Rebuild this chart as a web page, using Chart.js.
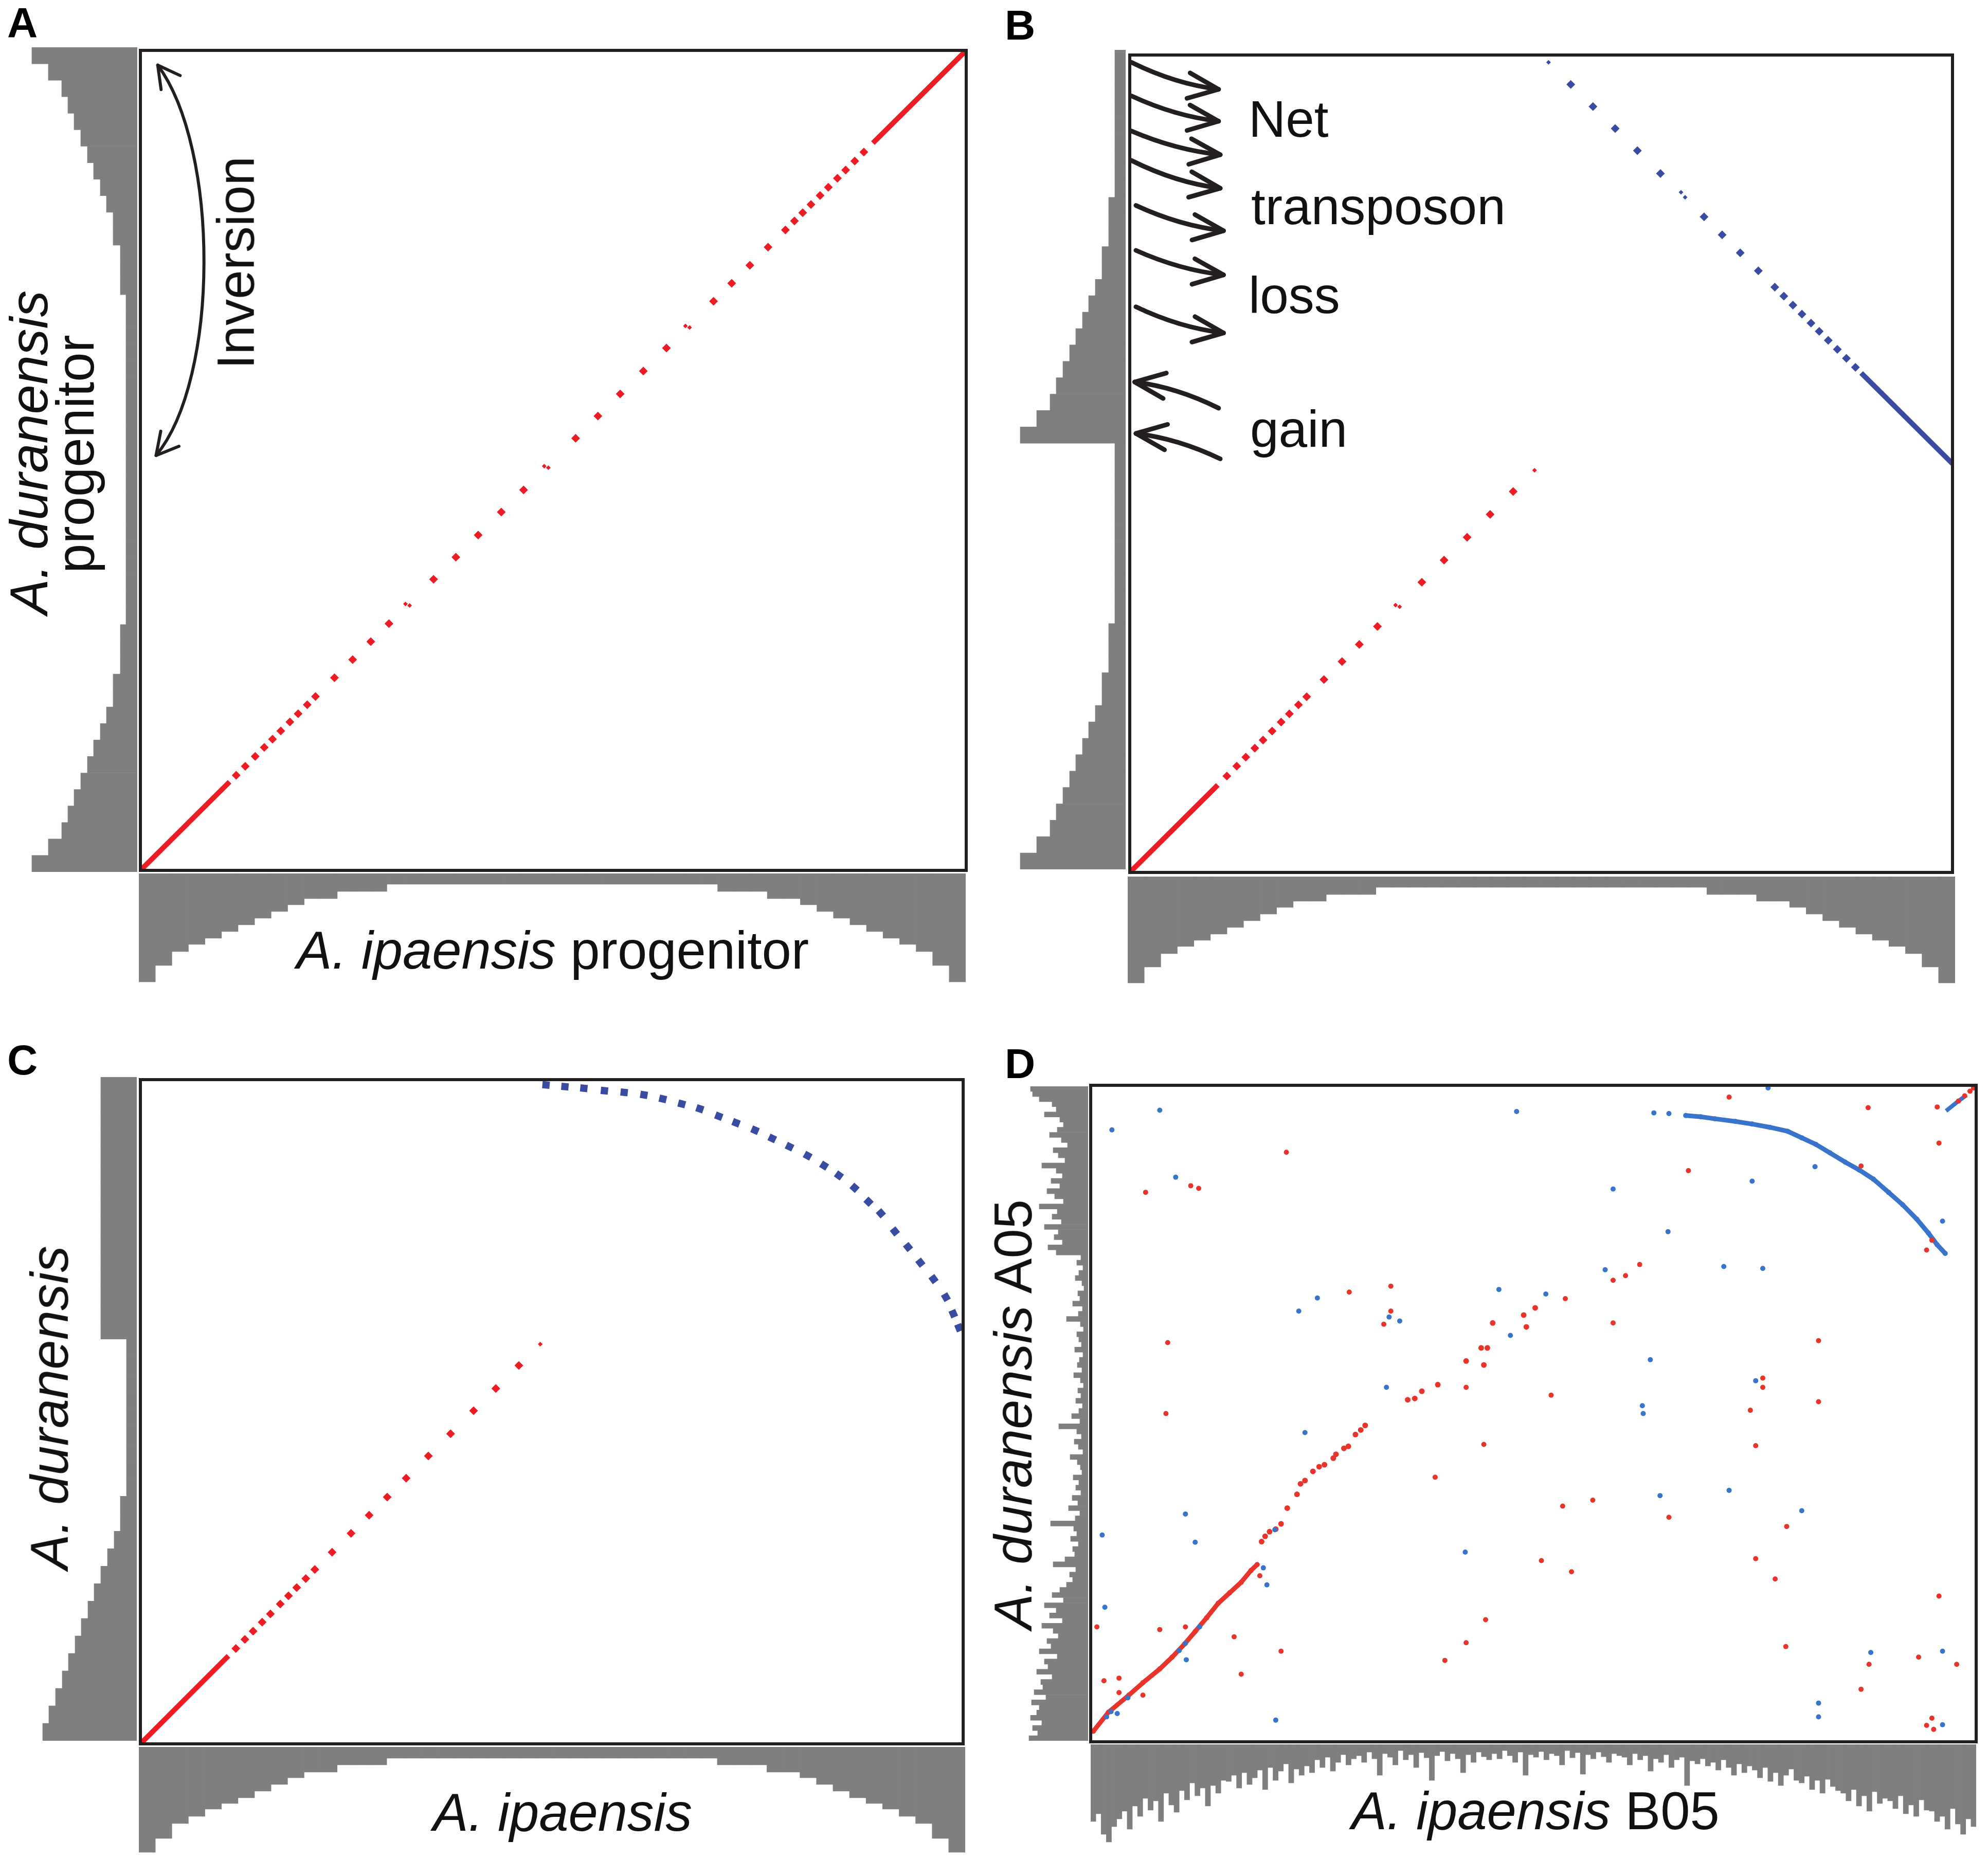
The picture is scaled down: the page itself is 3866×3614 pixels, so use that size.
<!DOCTYPE html>
<html>
<head>
<meta charset="utf-8">
<script src="https://cdn.jsdelivr.net/npm/chart.js@4.4.1/dist/chart.umd.min.js"></script>
<style>
html, body { margin: 0; padding: 0; background: #fff; }
#fig { position: relative; width: 3866px; height: 3614px; overflow: hidden; background: #fff; }
#fig canvas { position: absolute; }
.lab { position: absolute; z-index: 5; white-space: nowrap; line-height: 1; color: #111;
       font-family: 'Liberation Sans', Arial, Helvetica, sans-serif; font-size: 103px; }
.h { transform: translate(-50%, -84.65%); }
.v { transform-origin: 0 0; transform: rotate(-90deg) translate(-50%, -84.65%); }
.l { transform: translate(0, -84.65%); }
.tag { font-weight: bold; font-size: 82px; color: #000; }
.note { font-size: 100px; }
</style>
</head>
<body>
<div id="fig">
  <div class="lab l tag" style="left:14px;top:72px">A</div>
  <div class="lab l tag" style="left:1954px;top:77px">B</div>
  <div class="lab l tag" style="left:14px;top:2090px">C</div>
  <div class="lab l tag" style="left:1954px;top:2097px">D</div>

  <div class="lab v" style="left:92px;top:880px"><i>A. duranensis</i></div>
  <div class="lab v" style="left:182px;top:883px">progenitor</div>
  <div class="lab v" style="left:494px;top:511px;font-size:102px">Inversion</div>
  <div class="lab h" style="left:1075px;top:1884px"><i>A. ipaensis</i> progenitor</div>

  <div class="lab l note" style="left:2428px;top:266px">Net</div>
  <div class="lab l note" style="left:2433px;top:436px">transposon</div>
  <div class="lab l note" style="left:2428px;top:609px">loss</div>
  <div class="lab l note" style="left:2431px;top:869px">gain</div>

  <div class="lab v" style="left:132px;top:2738px"><i>A. duranensis</i></div>
  <div class="lab h" style="left:1094px;top:3561px"><i>A. ipaensis</i></div>

  <div class="lab v" style="left:2006px;top:2751px"><i>A. duranensis</i> A05</div>
  <div class="lab h" style="left:2986px;top:3558px"><i>A. ipaensis</i> B05</div>
</div>
<script>
// ---- panel A: progenitor self comparison (positions along the diagonal, x = y) ----
const aSolidLow = [[0, 0], [10.8, 10.8]];
const aSolidHigh = [[88.7, 88.7], [100, 100]];
const aDiagonalDots = [11.6, 12.7, 13.9, 15.0, 16.0, 17.0, 18.1, 19.1, 20.2, 21.2, 23.5, 25.7, 27.9, 30.1,
    35.5, 38.2, 40.9, 43.7, 46.4, 52.7, 55.4, 58.1, 60.9, 63.7, 69.4, 71.6, 73.8, 76.0,
    78.1, 79.2, 80.2, 81.2, 82.3, 83.3, 84.4, 85.4, 86.5, 87.6];
const aSmallTicks = [[32.1, 32.5], [32.6, 32.3], [48.9, 49.3], [49.4, 49.1], [66.0, 66.4], [66.5, 66.2]];
const inversionArrow = [{ from: [2.1, 98.2], c1: [9.6, 88], c2: [9.6, 60], to: [1.9, 50.6], both: true }];

// ---- panel B: after the inversion ----
const bRedSolid = [[0, 0], [10.7, 10.7]];
const bRedDots = [11.8, 13.0, 14.1, 15.2, 16.2, 17.3, 18.4, 19.4, 20.5, 21.5, 23.6, 25.8, 27.9, 30.1,
    35.5, 38.2, 41.0, 43.8, 46.6];
const bRedTicks = [[32.3, 32.7], [32.8, 32.5], [49.2, 49.2]];
const bBlueSolid = [[88.9, 61.1], [100, 50]];
const bBlueDotsX = [53.6, 56.3, 59.0, 61.7, 64.5, 69.8, 72.0, 74.2, 76.4, 78.4, 79.5, 80.6, 81.7, 82.8, 83.8, 84.9, 86.0, 87.1, 88.2];
const bBlueDotsY = [96.4, 93.7, 91.0, 88.3, 85.5, 80.2, 78.0, 75.8, 73.6, 71.6, 70.5, 69.4, 68.3, 67.2, 66.2, 65.1, 64.0, 62.9, 61.8];
const bBlueTicks = [[67.0, 83.2], [67.5, 82.6], [50.9, 99.1]];
const lossArrows = [
    { from: [0.2, 99.1], to: [10.8, 95.8] },
    { from: [0.2, 95.0], to: [10.8, 91.9] },
    { from: [0.2, 90.7], to: [11.0, 87.8] },
    { from: [0.2, 87.1], to: [11.0, 83.7] },
    { from: [0.75, 81.6], to: [11.4, 78.5] },
    { from: [0.75, 76.1], to: [11.4, 73.1] },
    { from: [0.75, 69.2], to: [11.4, 66.0] },
];
const gainArrows = [
    { from: [10.8, 56.8], to: [0.6, 60.0] },
    { from: [11.0, 50.6], to: [0.75, 53.7] },
];

// ---- panel C: modern genomes ----
const cRedSolid = [[0, 0], [10.7, 10.7]];
const cRedDots = [11.6, 12.7, 13.7, 14.8, 15.8, 17.0, 18.0, 19.0, 20.1, 21.2, 23.3, 25.6, 27.8, 30.0,
    32.3, 35.0, 37.7, 40.5, 43.2, 46.0];
const cRedTicks = [[48.6, 48.6]];
const cBlueX = [49.3, 51.6, 53.9, 56.4, 58.8, 61.2, 63.5, 65.8, 68.0, 70.3, 72.4, 74.7, 76.8, 78.9,
    81.1, 83.1, 84.9, 86.8, 88.5, 90.0, 91.7, 93.3, 94.8, 96.4, 97.9, 98.8, 99.5];
const cBlueY = [80.1, 79.9, 79.7, 79.4, 79.2, 78.9, 78.4, 77.8, 77.2, 76.3, 75.5, 74.6, 73.6, 72.6,
    71.5, 70.3, 69.1, 67.6, 65.9, 64.5, 62.3, 60.4, 58.5, 56.5, 54.3, 52.3, 50.6];

// ---- panel D: A05 vs B05 dot plot (percent of chromosome length) ----
const dRedMain = [[0.3, 1.6], [2.0, 4.5], [4.3, 7.1], [5.9, 9.0], [7.8, 11.1], [9.2, 12.9], [10.6, 14.9],
    [11.8, 16.8], [13.1, 18.9], [14.4, 21.1], [15.7, 22.7], [17.0, 24.3], [18.1, 26.1], [18.8, 27.0]];
const dRedSteps = [[19.3, 30.5], [19.7, 31.3], [20.2, 32.0], [20.9, 32.4], [21.5, 33.2], [22.2, 35.6],
    [23.3, 37.7], [23.7, 39.3], [24.2, 39.8], [25.1, 41.2], [25.8, 41.9], [26.4, 42.2], [27.4, 43.2],
    [27.7, 43.8], [28.6, 44.7], [29.1, 45.0], [29.9, 46.8], [30.5, 47.5], [31.0, 48.2],
    [35.8, 52.1], [36.6, 52.3], [37.4, 53.4], [39.2, 54.4], [42.4, 58.0], [44.1, 60.0], [44.8, 60.0],
    [44.4, 57.4], [45.4, 63.8], [48.9, 65.0], [49.2, 63.2], [50.2, 66.1]];
const dRedScatter = [[22.1, 89.8], [6.2, 83.7], [11.3, 84.7], [12.2, 84.3], [8.7, 60.8], [8.5, 50.0],
    [29.2, 68.5], [33.9, 69.4], [33.9, 65.6], [33.1, 63.6], [38.9, 40.3], [44.4, 45.3], [44.6, 18.6],
    [42.4, 15.1], [40.0, 12.4], [0.7, 17.5], [7.8, 17.1], [10.7, 17.5], [16.2, 16.0], [17.0, 10.3],
    [21.5, 13.8], [19.1, 25.3], [5.9, 7.1], [3.2, 9.7], [1.5, 9.3], [3.2, 7.5], [42.4, 54.0],
    [72.1, 98.2], [87.8, 96.6], [95.6, 96.7], [95.8, 91.2], [67.5, 87.0], [87.0, 87.7], [94.4, 74.9],
    [95.0, 76.4], [53.6, 67.5], [59.0, 70.3], [60.4, 71.0], [62.0, 72.7], [59.0, 63.8], [82.2, 61.1],
    [75.9, 55.4], [75.9, 54.0], [82.2, 51.8], [52.0, 52.8], [74.5, 50.5], [75.1, 45.1], [53.3, 35.9],
    [56.7, 36.8], [65.3, 34.2], [78.6, 32.8], [50.9, 27.6], [54.3, 25.9], [75.1, 27.9], [77.3, 24.8],
    [95.8, 22.2], [78.5, 14.5], [87.9, 11.8], [93.5, 12.9], [97.8, 11.8], [87.0, 8.0], [95.0, 3.6],
    [94.4, 2.5], [95.2, 1.9], [98.0, 97.6], [98.7, 98.4], [99.3, 99.1], [99.7, 99.6]];
const dBlueArc = [[67.2, 95.4], [68.9, 95.2], [70.5, 94.9], [72.8, 94.5], [74.7, 94.1], [76.7, 93.6],
    [78.7, 93.0], [80.3, 92.0], [81.9, 91.0], [83.5, 89.7], [85.2, 88.3], [86.8, 87.1], [88.4, 85.7],
    [90.1, 83.7], [91.7, 81.8], [93.3, 79.6], [94.6, 77.5], [95.6, 75.7], [96.5, 74.4]];
const dBlueCorner = [[96.6, 96.1], [97.9, 97.5], [98.9, 98.5]];
const dBlueScatter = [[7.8, 96.2], [2.4, 93.2], [9.6, 86.0], [23.5, 65.6], [25.6, 67.6], [33.7, 64.7],
    [34.9, 64.1], [33.4, 54.0], [46.1, 68.9], [47.4, 61.9], [48.1, 96.0], [24.2, 47.1], [10.7, 34.7],
    [11.8, 30.4], [1.3, 31.5], [1.6, 20.5], [42.3, 28.9], [19.5, 26.5], [19.9, 23.9], [20.8, 32.3],
    [12.3, 17.5], [10.7, 15.0], [10.0, 13.9], [10.8, 12.5], [4.2, 6.7], [2.3, 4.6], [3.0, 4.3],
    [1.8, 3.8], [20.9, 3.3], [76.5, 99.6], [59.0, 84.2], [65.2, 77.7], [74.7, 85.4], [81.8, 87.6],
    [58.1, 71.9], [51.4, 68.2], [71.5, 72.4], [75.9, 72.1], [96.2, 79.3], [63.2, 58.2], [75.1, 55.0],
    [62.3, 51.2], [62.4, 50.0], [64.3, 37.5], [72.1, 38.3], [80.3, 35.2], [88.1, 13.6], [96.2, 13.8],
    [82.2, 5.9], [82.2, 3.8], [96.2, 2.6], [63.6, 95.8], [65.3, 95.7]];

// ---- marginal transposon histograms (bar lengths in px, bins top->bottom / left->right) ----
const histALeft = [205, 173, 147, 135, 123, 110, 97, 85, 72, 60, 47, 47, 33, 33, 33,
    22, 22, 22, 22, 22, 22, 22, 22, 22, 22, 22, 22, 22, 22, 22, 22, 22, 22, 22, 22,
    33, 33, 33, 47, 47, 60, 72, 85, 97, 110, 123, 135, 147, 173, 205];
const histABottom = [211, 179, 152, 138, 126, 113, 100, 87, 74, 61, 49, 49, 35, 35, 35,
    21, 21, 21, 21, 21, 21, 21, 21, 21, 21, 21, 21, 21, 21, 21, 21, 21, 21, 21, 21,
    35, 35, 35, 49, 49, 61, 74, 87, 100, 113, 126, 138, 152, 179, 211];
const histBLeft = [21, 21, 21, 21, 21, 21, 21, 21, 21, 33, 33, 33, 46, 46,
    59, 72, 84, 97, 109, 122, 135, 147, 173, 205,
    21, 21, 21, 21, 21, 21, 21, 21, 21, 21, 21, 33, 33, 33, 46, 46,
    59, 72, 84, 97, 109, 122, 135, 147, 173, 205];
const histBBottom = [207, 176, 150, 136, 124, 112, 99, 86, 73, 60, 48, 48, 35, 35, 35,
    21, 21, 21, 21, 21, 21, 21, 21, 21, 21, 21, 21, 21, 21, 21, 21, 21, 21, 21, 21,
    35, 35, 35, 48, 48, 60, 73, 86, 99, 112, 124, 136, 150, 176, 207];
const histCLeft = [70, 70, 70, 70, 70, 70, 70, 70, 70, 70, 70, 70, 70, 70, 70,
    20, 20, 20, 20, 20, 20, 20, 20, 20,
    32, 32, 44, 57, 70, 83, 95, 108, 120, 133, 145, 158, 171, 183];
const histCBottom = [205, 178, 149, 135, 121, 110, 99, 86, 73, 60, 49, 49, 35, 35, 35,
    22, 22, 22, 22, 22, 22, 22, 22, 22, 22, 22, 22, 22, 22, 22, 22, 22, 22, 22, 22,
    35, 35, 35, 49, 49, 60, 73, 86, 99, 110, 121, 135, 149, 178, 205];
const histDLeft = [112, 108, 95, 70, 62, 85, 55, 48, 60, 75, 52, 40, 68, 58, 45, 90, 62, 50, 72, 55,
    80, 65, 48, 95, 60, 70, 52, 85, 58, 66, 50, 78, 62,
    14, 22, 10, 18, 25, 12, 8, 20, 16, 30, 11, 19, 42, 15, 9, 22, 18, 13, 26, 10,
    17, 21, 12, 28, 15, 9, 20, 14, 24, 11, 18, 32, 16, 57, 22, 13, 27, 19, 10, 35,
    21, 15, 12, 29, 18, 24, 14, 31, 20, 38, 16, 25, 73, 28, 22, 34, 19, 30, 26, 45,
    68, 24, 36, 30, 42,
    55, 70, 48, 85, 62, 75, 50, 90, 68, 58, 80, 72, 95, 60, 85, 78, 100, 70, 92, 88,
    105, 82, 110, 95, 100, 112, 90, 108, 98, 115];
const histDBottom = [150, 135, 175, 190, 160, 145, 130, 165,
    120, 140, 105, 128, 110, 150, 95, 118, 132,
    90, 108, 75, 100, 85, 120, 80, 95, 70,
    72, 60, 85, 55, 78, 65, 50, 88,
    45, 70, 52, 38, 75, 48, 60, 42, 55,
    30, 45, 25, 52, 35, 20, 40, 28,
    22, 35, 15, 28, 60, 18, 25, 40, 12, 30, 20, 45, 16, 26, 70, 22, 14, 32, 18, 28, 55, 20, 35, 15, 24, 30,
    18, 28, 12, 22, 35, 15, 60, 20, 25, 14, 30, 18, 22, 40, 12, 26, 16, 58, 20, 28, 15, 24, 35, 18, 22,
    25, 40, 18, 30, 22, 52, 28, 35, 20, 45, 30, 25, 80, 32, 38, 28, 42,
    35, 50, 30, 45, 60, 38, 55, 42,
    50, 65, 45, 72, 55, 80, 60, 48, 70,
    75, 62, 88, 70, 95, 68, 82, 90,
    95, 110, 88, 120, 100, 130, 92, 115, 105,
    110, 125, 100, 135, 118, 140, 108, 128,
    130, 150, 140, 165, 125, 155, 175, 145, 160];

const RED = 'rgb(237,28,36)';
const BLUE = 'rgb(58,75,162)';
const D_RED = 'rgb(233,52,44)';
const D_BLUE = 'rgb(56,116,204)';
const GRAY = 'rgb(127,127,127)';
const INK = '#231F20';

Chart.defaults.responsive = false;
Chart.defaults.animation = false;
Chart.defaults.devicePixelRatio = 1;
Chart.defaults.plugins.legend.display = false;
Chart.defaults.plugins.tooltip.enabled = false;

const fig = document.getElementById('fig');

function addCanvas(box) {
    const c = document.createElement('canvas');
    c.width = box.width;
    c.height = box.height;
    c.style.left = box.left + 'px';
    c.style.top = box.top + 'px';
    c.style.width = box.width + 'px';
    c.style.height = box.height + 'px';
    fig.appendChild(c);
    return c;
}

const diag = arr => arr.map(p => ({ x: p, y: p }));
const pts = arr => arr.map(p => ({ x: p[0], y: p[1] }));
const zip = (xs, ys) => xs.map((x, i) => ({ x: x, y: ys[i] }));

function dots(data, color, style, r, extra) {
    return Object.assign({
        data: data, showLine: false, backgroundColor: color, borderColor: color,
        pointStyle: style, pointRadius: r, pointBorderWidth: 0
    }, extra || {});
}

function seg(data, color, w) {
    return {
        data: data, showLine: true, borderColor: color, backgroundColor: color, borderWidth: w,
        pointRadius: 0, borderCapStyle: 'butt', clip: 0
    };
}

// keep square markers aligned with the curve they sit on
function alongCurve(ctx) {
    const d = ctx.dataset.data, i = ctx.dataIndex;
    const a = d[Math.max(i - 1, 0)], b = d[Math.min(i + 1, d.length - 1)];
    const xs = ctx.chart.scales.x, ys = ctx.chart.scales.y;
    return Math.atan2(ys.getPixelForValue(b.y) - ys.getPixelForValue(a.y),
        xs.getPixelForValue(b.x) - xs.getPixelForValue(a.x)) * 180 / Math.PI;
}

const frameLayer = {
    id: 'frame',
    afterDatasetsDraw(chart) {
        const { ctx, chartArea: a } = chart;
        ctx.save();
        ctx.lineWidth = 6;
        ctx.strokeStyle = INK;
        ctx.strokeRect(a.left, a.top, a.right - a.left, a.bottom - a.top);
        ctx.restore();
    }
};

function arrowHead(ctx, tip, from, len, ang) {
    const a = Math.atan2(tip.y - from.y, tip.x - from.x);
    ctx.beginPath();
    ctx.moveTo(tip.x - len * Math.cos(a - ang), tip.y - len * Math.sin(a - ang));
    ctx.lineTo(tip.x, tip.y);
    ctx.lineTo(tip.x - len * Math.cos(a + ang), tip.y - len * Math.sin(a + ang));
    ctx.stroke();
}

function arrowLayer(items, width, headLen, headAngle) {
    return {
        id: 'arrows',
        afterDatasetsDraw(chart) {
            const { ctx } = chart, xs = chart.scales.x, ys = chart.scales.y;
            const px = p => ({ x: xs.getPixelForValue(p[0]), y: ys.getPixelForValue(p[1]) });
            ctx.save();
            ctx.strokeStyle = INK;
            ctx.lineWidth = width;
            ctx.lineCap = 'round';
            ctx.lineJoin = 'round';
            items.forEach(a => {
                const p0 = px(a.from), p1 = px(a.to);
                ctx.beginPath();
                ctx.moveTo(p0.x, p0.y);
                let cStart, cEnd;
                if (a.c1) {
                    cStart = px(a.c1);
                    cEnd = px(a.c2);
                    ctx.bezierCurveTo(cStart.x, cStart.y, cEnd.x, cEnd.y, p1.x, p1.y);
                } else {
                    cStart = cEnd = { x: p0.x + 0.5 * (p1.x - p0.x), y: p0.y + 0.8 * (p1.y - p0.y) };
                    ctx.quadraticCurveTo(cEnd.x, cEnd.y, p1.x, p1.y);
                }
                ctx.stroke();
                arrowHead(ctx, p1, cEnd, headLen, headAngle);
                if (a.both) arrowHead(ctx, p0, cStart, headLen, headAngle);
            });
            ctx.restore();
        }
    };
}

function dotPlot(box, yMax, datasets, layers) {
    const pad = 10;
    const c = addCanvas({ left: box.left - pad, top: box.top - pad, width: box.width + 2 * pad, height: box.height + 2 * pad });
    return new Chart(c, {
        type: 'scatter',
        data: { datasets: datasets },
        options: {
            events: [],
            layout: { padding: pad },
            scales: {
                x: { type: 'linear', min: 0, max: 100, display: false },
                y: { type: 'linear', min: 0, max: yMax, display: false }
            }
        },
        plugins: [frameLayer].concat(layers || [])
    });
}

function histogram(values, box, horizontal) {
    const c = addCanvas(box);
    const valueAxis = { min: 0, max: horizontal ? box.width : box.height, reverse: true, display: false };
    const binAxis = { display: false };
    return new Chart(c, {
        type: 'bar',
        data: {
            labels: values.map((v, i) => i + 1),
            datasets: [{ data: values, backgroundColor: GRAY, borderWidth: 0, barPercentage: 1, categoryPercentage: 1 }]
        },
        options: {
            indexAxis: horizontal ? 'y' : 'x',
            events: [],
            layout: { padding: 0 },
            scales: horizontal ? { x: valueAxis, y: binAxis } : { x: binAxis, y: valueAxis }
        }
    });
}

// histograms
histogram(histALeft, { left: 52, top: 92, width: 215, height: 1604 }, true);
histogram(histABottom, { left: 270, top: 1699, width: 1608, height: 215 }, false);
histogram(histBLeft, { left: 1974, top: 97, width: 215, height: 1594 }, true);
histogram(histBBottom, { left: 2193, top: 1705, width: 1609, height: 212 }, false);
histogram(histCLeft, { left: 51, top: 2095, width: 215, height: 1291 }, true);
histogram(histCBottom, { left: 270, top: 3398, width: 1607, height: 210 }, false);
histogram(histDLeft, { left: 1993, top: 2113, width: 123, height: 1273 }, true);
histogram(histDBottom, { left: 2121, top: 3393, width: 1722, height: 200 }, false);

// panel A
dotPlot({ left: 273, top: 98, width: 1606, height: 1595 }, 100, [
    dots(pts(aSmallTicks), RED, 'rectRot', 4.5),
    dots(diag(aDiagonalDots), RED, 'rectRot', 8.5),
    seg(pts(aSolidLow), RED, 10),
    seg(pts(aSolidHigh), RED, 10)
], [arrowLayer(inversionArrow, 6, 48, 0.5)]);

// panel B
dotPlot({ left: 2197, top: 107, width: 1600, height: 1590 }, 100, [
    dots(pts(bRedTicks), RED, 'rectRot', 4.5),
    dots(diag(bRedDots), RED, 'rectRot', 8.5),
    seg(pts(bRedSolid), RED, 10),
    dots(pts(bBlueTicks), BLUE, 'rectRot', 4.5),
    dots(zip(bBlueDotsX, bBlueDotsY), BLUE, 'rectRot', 8.5),
    seg(pts(bBlueSolid), BLUE, 10)
], [arrowLayer(lossArrows.concat(gainArrows), 9, 64, 0.4)]);

// panel C
dotPlot({ left: 273, top: 2100, width: 1600, height: 1292 }, 80.75, [
    dots(pts(cRedTicks), RED, 'rectRot', 4.5),
    dots(diag(cRedDots), RED, 'rectRot', 8.5),
    seg(pts(cRedSolid), RED, 10),
    dots(zip(cBlueX, cBlueY), BLUE, 'rect', 10, { pointRotation: alongCurve })
]);

// panel D
dotPlot({ left: 2121, top: 2111, width: 1722, height: 1277 }, 100, [
    dots(pts(dBlueScatter), D_BLUE, 'circle', 5),
    dots(pts(dRedScatter), D_RED, 'circle', 5),
    dots(pts(dRedSteps), D_RED, 'circle', 5.5),
    Object.assign(seg(pts(dRedMain), D_RED, 9), { pointRadius: 5, pointBorderWidth: 0 }),
    Object.assign(seg(pts(dBlueArc), D_BLUE, 9), { pointRadius: 5, pointBorderWidth: 0 }),
    seg(pts(dBlueCorner), D_BLUE, 8)
]);
</script>
</body>
</html>
